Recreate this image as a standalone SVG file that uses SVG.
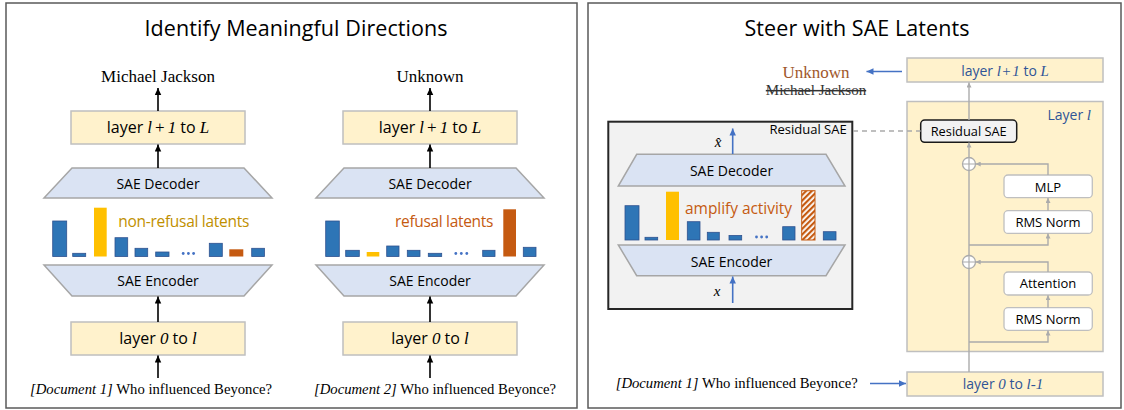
<svg xmlns="http://www.w3.org/2000/svg" width="1124" height="410" viewBox="0 0 1124 410">
  <defs>
    <style>
      .sans{font-family:"Open Sans","Liberation Sans",sans-serif;}
      .serif{font-family:"Liberation Serif","Times New Roman",serif;}
      .m{font-family:"Liberation Serif","Times New Roman",serif;font-style:italic;}
      .panel{fill:#fff;stroke:#5a5a5a;stroke-width:1.5;}
      .stage{fill:#FFF2CC;stroke:#BFBFBF;stroke-width:1.5;}
      .sae{fill:#DAE3F3;stroke:#A6A6A6;stroke-width:1.5;}
      .bar{fill:#2E75B6;stroke:#2F528F;stroke-width:0.8;}
      .gold{fill:#FFC000;}
      .rust{fill:#C55A11;}
      .dot{fill:#4472C4;}
      .blk{stroke:#000;stroke-width:1.6;fill:none;}
      .blue{stroke:#4472C4;stroke-width:1.6;fill:none;}
      .gray{stroke:#ABABAB;stroke-width:1.4;fill:none;}
      .sub{fill:#fff;stroke:#BFBFBF;stroke-width:1.3;}
      .bluetxt{fill:#2F5597;}
    </style>
    <marker id="ah-black" markerUnits="userSpaceOnUse" markerWidth="8" markerHeight="7" refX="7" refY="3.25" orient="auto">
      <path d="M0,0 L7,3.25 L0,6.5 z" fill="#000"/>
    </marker>
    <marker id="ah-blue" markerUnits="userSpaceOnUse" markerWidth="8" markerHeight="7" refX="7" refY="3.25" orient="auto">
      <path d="M0,0 L7,3.25 L0,6.5 z" fill="#4472C4"/>
    </marker>
    <marker id="ah-gray" markerUnits="userSpaceOnUse" markerWidth="6" markerHeight="5" refX="5" refY="2.5" orient="auto">
      <path d="M0,0 L5,2.5 L0,5 z" fill="#ABABAB"/>
    </marker>
    <pattern id="hatch" patternUnits="userSpaceOnUse" width="4" height="4" patternTransform="rotate(45)">
      <rect width="4" height="4" fill="#fff"/>
      <line x1="1" y1="0" x2="1" y2="4" stroke="#C55A11" stroke-width="2.4"/>
    </pattern>
  </defs>

  <!-- ===== left panel: identify directions ===== -->
  <g id="panel-identify">
    <rect class="panel" x="6" y="3" width="571" height="405"/>
    <text class="sans" x="296" y="36" font-size="21.5" text-anchor="middle" textLength="303" fill="#000">Identify Meaningful Directions</text>
  </g>

  <!-- column 1 -->
  <g id="col1-output">
    <text class="serif" x="158" y="82" font-size="17" text-anchor="middle">Michael Jackson</text>
  </g>
  <g id="col1-upper">
    <rect class="stage" x="71" y="111" width="174" height="33"/>
    <text class="sans" x="158" y="133" font-size="16" text-anchor="middle">layer <tspan class="m" font-size="17">l</tspan><tspan class="serif" font-size="17" dx="3">+</tspan><tspan class="m" font-size="17" dx="3">1</tspan> to <tspan class="m" font-size="17">L</tspan></text>
  </g>
  <g id="col1-decoder">
    <polygon class="sae" points="72,168 244,168 272,198 44,198"/>
    <text class="sans" x="158" y="189" font-size="14" text-anchor="middle">SAE Decoder</text>
  </g>
  <g id="col1-latents">
    <rect class="bar" x="52.7" y="221" width="14" height="35.5"/>
    <rect class="bar" x="72.7" y="253.3" width="13" height="3.2"/>
    <rect class="gold" x="94" y="207.7" width="12.7" height="48.8"/>
    <rect class="bar" x="115" y="237.7" width="12.7" height="18.8"/>
    <rect class="bar" x="135" y="248.3" width="12.7" height="8.2"/>
    <rect class="bar" x="155.7" y="252" width="13.3" height="4.5"/>
    <circle class="dot" cx="183.2" cy="253.5" r="1.4"/>
    <circle class="dot" cx="188.4" cy="253.5" r="1.4"/>
    <circle class="dot" cx="193.6" cy="253.5" r="1.4"/>
    <rect class="bar" x="209.3" y="243.3" width="13" height="13.2"/>
    <rect class="rust" x="229.3" y="249.3" width="14" height="7.2"/>
    <rect class="bar" x="251.7" y="248.3" width="12.7" height="8.2"/>
    <text class="sans" x="118.3" y="227" font-size="15.5" fill="#BF9000" textLength="131">non-refusal latents</text>
  </g>
  <g id="col1-encoder">
    <polygon class="sae" points="44,265 272,265 244,296 72,296"/>
    <text class="sans" x="158" y="286" font-size="14" text-anchor="middle">SAE Encoder</text>
  </g>
  <g id="col1-lower">
    <rect class="stage" x="71" y="322" width="174" height="33"/>
    <text class="sans" x="158" y="344" font-size="16" text-anchor="middle">layer <tspan class="m" font-size="17">0</tspan> to <tspan class="m" font-size="17">l</tspan></text>
  </g>
  <g id="col1-input">
    <text class="serif" x="151" y="394" font-size="14.7" text-anchor="middle"><tspan font-style="italic">[Document 1]</tspan> Who influenced Beyonce?</text>
  </g>

  <!-- column 2 -->
  <g id="col2-output">
    <text class="serif" x="430" y="82" font-size="17" text-anchor="middle">Unknown</text>
  </g>
  <g id="col2-upper">
    <rect class="stage" x="343" y="111" width="174" height="33"/>
    <text class="sans" x="430" y="133" font-size="16" text-anchor="middle">layer <tspan class="m" font-size="17">l</tspan><tspan class="serif" font-size="17" dx="3">+</tspan><tspan class="m" font-size="17" dx="3">1</tspan> to <tspan class="m" font-size="17">L</tspan></text>
  </g>
  <g id="col2-decoder">
    <polygon class="sae" points="344,168 516,168 544,198 316,198"/>
    <text class="sans" x="430" y="189" font-size="14" text-anchor="middle">SAE Decoder</text>
  </g>
  <g id="col2-latents">
    <rect class="bar" x="325.7" y="221" width="13.6" height="35.5"/>
    <rect class="bar" x="345.7" y="250.3" width="13.6" height="6.2"/>
    <rect class="gold" x="366.7" y="252" width="12.6" height="4.5"/>
    <rect class="bar" x="386.7" y="246" width="12.3" height="10.5"/>
    <rect class="bar" x="407.3" y="250.3" width="12.7" height="6.2"/>
    <rect class="bar" x="428.3" y="253.3" width="13.4" height="3.2"/>
    <circle class="dot" cx="455.8" cy="253.5" r="1.4"/>
    <circle class="dot" cx="461.3" cy="253.5" r="1.4"/>
    <circle class="dot" cx="466.8" cy="253.5" r="1.4"/>
    <rect class="bar" x="482.7" y="250.3" width="12.3" height="6.2"/>
    <rect class="rust" x="503.3" y="209.3" width="12.7" height="47.2"/>
    <rect class="bar" x="523.3" y="247.3" width="12.7" height="9.2"/>
    <text class="sans" x="395" y="227" font-size="15.5" fill="#C55A11" textLength="98.3">refusal latents</text>
  </g>
  <g id="col2-encoder">
    <polygon class="sae" points="316,265 544,265 516,296 344,296"/>
    <text class="sans" x="430" y="286" font-size="14" text-anchor="middle">SAE Encoder</text>
  </g>
  <g id="col2-lower">
    <rect class="stage" x="343" y="322" width="174" height="33"/>
    <text class="sans" x="430" y="344" font-size="16" text-anchor="middle">layer <tspan class="m" font-size="17">0</tspan> to <tspan class="m" font-size="17">l</tspan></text>
  </g>
  <g id="col2-input">
    <text class="serif" x="435" y="394" font-size="14.7" text-anchor="middle"><tspan font-style="italic">[Document 2]</tspan> Who influenced Beyonce?</text>
  </g>

  <!-- ===== right panel: steering ===== -->
  <g id="panel-steer">
    <rect class="panel" x="588" y="3" width="533" height="405"/>
    <text class="sans" x="857" y="36" font-size="21.5" text-anchor="middle" textLength="225">Steer with SAE Latents</text>
  </g>

  <g id="steer-output">
    <text class="serif" x="816" y="77.5" font-size="17" text-anchor="middle" fill="#A0582C">Unknown</text>
    <text class="serif" x="816" y="95" font-size="15" text-anchor="middle" fill="#333" text-decoration="line-through">Michael Jackson</text>
  </g>

  <g id="steer-upper">
    <rect class="stage" x="907" y="58" width="196" height="24"/>
    <text class="sans bluetxt" x="1005" y="75.5" font-size="14" text-anchor="middle">layer <tspan class="m" font-size="15">l</tspan><tspan class="serif" font-size="15" dx="1.5">+</tspan><tspan class="m" font-size="15" dx="1.5">1</tspan> to <tspan class="m" font-size="15">L</tspan></text>
  </g>

  <g id="layer-l">
    <rect class="stage" x="907" y="101.5" width="196" height="250"/>
    <text class="sans bluetxt" x="1091" y="119.5" font-size="14" text-anchor="end">Layer <tspan class="m" font-size="15">l</tspan></text>
  </g>

  <g id="residual-sae-node">
    <rect x="920.7" y="120" width="96" height="22.3" rx="4" fill="#F2F2F2" stroke="#1a1a1a" stroke-width="1.5"/>
    <text class="sans" x="968.7" y="136" font-size="12.8" text-anchor="middle">Residual SAE</text>
  </g>

  <g id="add-mlp">
    <circle cx="969" cy="164" r="6.5" fill="#fff" stroke="#ABABAB" stroke-width="1.3"/>
    <path d="M962.5,164 H975.5 M969,157.5 V170.5" stroke="#ABABAB" stroke-width="1.2"/>
  </g>
  <g id="add-attn">
    <circle cx="969" cy="262" r="6.5" fill="#fff" stroke="#ABABAB" stroke-width="1.3"/>
    <path d="M962.5,262 H975.5 M969,255.5 V268.5" stroke="#ABABAB" stroke-width="1.2"/>
  </g>

  <g id="mlp">
    <rect class="sub" x="1004" y="175" width="88.3" height="22.7" rx="4"/>
    <text class="sans" x="1048" y="191.5" font-size="13" text-anchor="middle">MLP</text>
  </g>
  <g id="rmsnorm-mlp">
    <rect class="sub" x="1004" y="210.7" width="88.3" height="22.7" rx="4"/>
    <text class="sans" x="1048" y="227" font-size="13" text-anchor="middle">RMS Norm</text>
  </g>
  <g id="attention">
    <rect class="sub" x="1004" y="272" width="88.3" height="23" rx="4"/>
    <text class="sans" x="1048" y="288" font-size="13" text-anchor="middle">Attention</text>
  </g>
  <g id="rmsnorm-attn">
    <rect class="sub" x="1004" y="307.7" width="88.3" height="22.6" rx="4"/>
    <text class="sans" x="1048" y="323.5" font-size="13" text-anchor="middle">RMS Norm</text>
  </g>

  <g id="steer-lower">
    <rect class="stage" x="907" y="372" width="196" height="24"/>
    <text class="sans bluetxt" x="1003" y="388.5" font-size="14" text-anchor="middle">layer <tspan class="m" font-size="15">0</tspan> to <tspan class="m" font-size="15">l-1</tspan></text>
  </g>

  <g id="steer-input">
    <text class="serif" x="736.7" y="388.3" font-size="14.7" text-anchor="middle"><tspan font-style="italic">[Document 1]</tspan> Who influenced Beyonce?</text>
  </g>

  <!-- expanded residual SAE -->
  <g id="residual-sae-detail">
    <rect x="608.3" y="121.7" width="244" height="187.3" fill="#F2F2F2" stroke="#262626" stroke-width="2"/>
    <text class="sans" x="846.7" y="134" font-size="13" text-anchor="end">Residual SAE</text>
    <polygon class="sae" points="636.7,154.3 826,154.3 845,186 618.3,186"/>
    <text class="sans" x="731.5" y="175.5" font-size="14" text-anchor="middle">SAE Decoder</text>
    <rect class="bar" x="625" y="205.7" width="14" height="34.3"/>
    <rect class="bar" x="645" y="237.3" width="12.7" height="2.7"/>
    <rect class="gold" x="666" y="191.7" width="13" height="48.3"/>
    <rect class="bar" x="687.3" y="221.7" width="12.7" height="18.3"/>
    <rect class="bar" x="707.3" y="232.3" width="12" height="7.7"/>
    <rect class="bar" x="729" y="235.5" width="12.7" height="4.5"/>
    <circle class="dot" cx="756.5" cy="237" r="1.4"/>
    <circle class="dot" cx="761.6" cy="237" r="1.4"/>
    <circle class="dot" cx="766.7" cy="237" r="1.4"/>
    <rect class="bar" x="782.7" y="226.7" width="12.3" height="13.3"/>
    <rect x="801.7" y="190.7" width="13.3" height="49.3" fill="url(#hatch)" stroke="#C55A11" stroke-width="1"/>
    <rect class="bar" x="823.3" y="231.7" width="12.7" height="8.3"/>
    <text class="sans" x="685" y="214" font-size="15.5" fill="#C55A11" textLength="107">amplify activity</text>
    <polygon class="sae" points="618.3,245 845,245 826,275.7 636.7,275.7"/>
    <text class="sans" x="731.5" y="266.7" font-size="14" text-anchor="middle">SAE Encoder</text>
    <text class="m" x="718" y="147" font-size="15" text-anchor="middle">x̂</text>
    <text class="m" x="717" y="296" font-size="15" text-anchor="middle">x</text>
  </g>

  <!-- connectors -->
  <g id="connectors">
    <!-- left column 1 -->
    <line class="blk" x1="158" y1="111" x2="158" y2="88" marker-end="url(#ah-black)"/>
    <line class="blk" x1="158" y1="168" x2="158" y2="144.5" marker-end="url(#ah-black)"/>
    <line class="blk" x1="158" y1="322" x2="158" y2="296.5" marker-end="url(#ah-black)"/>
    <line class="blk" x1="158" y1="378" x2="158" y2="355.5" marker-end="url(#ah-black)"/>
    <!-- left column 2 -->
    <line class="blk" x1="430" y1="111" x2="430" y2="88" marker-end="url(#ah-black)"/>
    <line class="blk" x1="430" y1="168" x2="430" y2="144.5" marker-end="url(#ah-black)"/>
    <line class="blk" x1="430" y1="322" x2="430" y2="296.5" marker-end="url(#ah-black)"/>
    <line class="blk" x1="430" y1="378" x2="430" y2="355.5" marker-end="url(#ah-black)"/>
    <!-- steering: blue flows -->
    <line class="blue" x1="902" y1="71.5" x2="866.5" y2="71.5" marker-end="url(#ah-blue)"/>
    <line class="blue" x1="870" y1="383.5" x2="906" y2="383.5" marker-end="url(#ah-blue)"/>
    <line class="blue" x1="732.7" y1="154" x2="732.7" y2="128.5" marker-end="url(#ah-blue)"/>
    <line class="blue" x1="732.7" y1="303" x2="732.7" y2="276.5" marker-end="url(#ah-blue)"/>
    <!-- SAE hook -->
    <line x1="853" y1="131" x2="920.7" y2="131" stroke="#ABABAB" stroke-width="1.5" stroke-dasharray="5,4"/>
    <!-- residual stream -->
    <line class="gray" x1="969" y1="372" x2="969" y2="268.5"/>
    <line class="gray" x1="969" y1="255.5" x2="969" y2="170.5"/>
    <line class="gray" x1="969" y1="157.5" x2="969" y2="142.5" marker-end="url(#ah-gray)"/>
    <line class="gray" x1="969" y1="120" x2="969" y2="82.5" marker-end="url(#ah-gray)"/>
    <!-- attention branch -->
    <polyline class="gray" points="969,342 1048,342 1048,330.5" marker-end="url(#ah-gray)"/>
    <line class="gray" x1="1048" y1="307.7" x2="1048" y2="295.2" marker-end="url(#ah-gray)"/>
    <polyline class="gray" points="1048,272 1048,262 975.7,262" marker-end="url(#ah-gray)"/>
    <!-- MLP branch -->
    <polyline class="gray" points="969,245 1048,245 1048,233.6" marker-end="url(#ah-gray)"/>
    <line class="gray" x1="1048" y1="210.7" x2="1048" y2="198" marker-end="url(#ah-gray)"/>
    <polyline class="gray" points="1048,175 1048,164 975.7,164" marker-end="url(#ah-gray)"/>
  </g>
</svg>
